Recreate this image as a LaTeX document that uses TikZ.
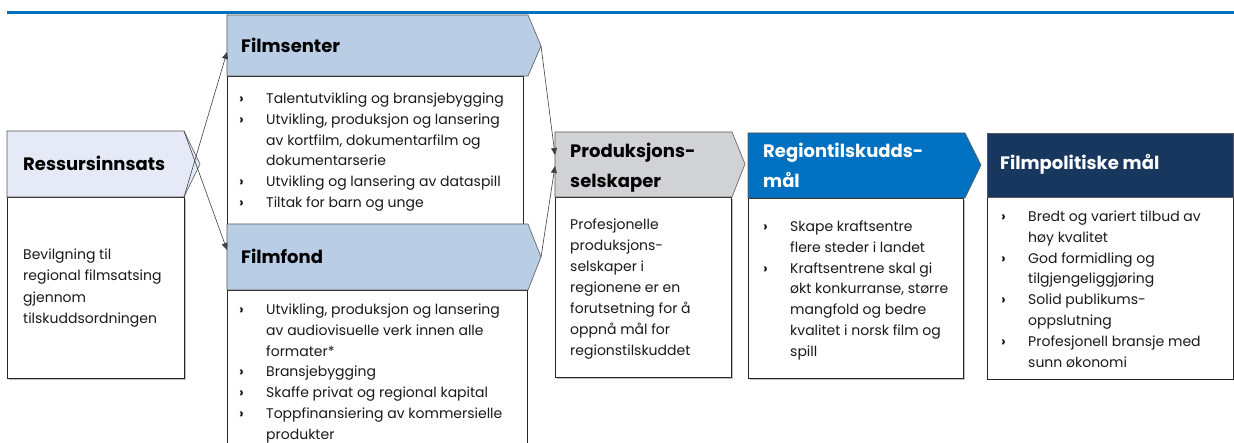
\documentclass[tikz,border=0pt]{standalone}
\usepackage{fontspec}
\setmainfont{Poppins}
\usetikzlibrary{arrows.meta}
\definecolor{lineblue}{RGB}{0,112,192}
\definecolor{resfill}{RGB}{230,234,247}
\definecolor{filmfill}{RGB}{185,205,229}
\definecolor{prodfill}{RGB}{209,210,212}
\definecolor{regfill}{RGB}{0,112,192}
\definecolor{polfill}{RGB}{23,55,94}
\definecolor{txt}{RGB}{26,26,26}
\newcommand{\bl}{\makebox[27pt][l]{\bfseries ›}}
\newcommand{\ind}{\hspace*{27pt}}
\tikzset{
  hdr/.style={draw=black!65, line width=0.6pt},
  bodybox/.style={draw=black!85, line width=0.7pt, fill=white},
  shade/.style={draw=black!25, line width=1.2pt},
  conn/.style={draw=black!75, line width=0.6pt, -{Triangle[length=7pt,width=6pt]}},
  btext/.style={anchor=base west, inner sep=0pt, align=left, text=txt,
    font=\fontsize{14}{20.8}\selectfont},
  htext/.style={anchor=base west, inner sep=0pt, align=left, text=black,
    font=\fontsize{18}{29.5}\selectfont\bfseries},
}
\begin{document}
\begin{tikzpicture}[x=1pt,y=-1pt]
\useasboundingbox (0,0) rectangle (1234,443);
\fill[white] (0,0) rectangle (1234,443);
% top rule
\draw[lineblue, line width=3pt] (7,13) -- (1234,13);

% Ressursinnsats
\draw[shade] (9,379.5) -- (185.5,379.5) -- (185.5,199);
\draw[bodybox] (7,197) rectangle (184,378);
\draw[hdr, fill=resfill] (7,131) -- (184,131) -- (200,164) -- (184,197) -- (7,197) -- cycle;
\node[htext] (resH) at (23,171) {Ressursinnsats};
\node[btext, font=\fontsize{14}{21.3}\selectfont] (resB) at (23,323.4)
  {Bevilgning til\\regional filmsatsing\\gjennom\\tilskuddsordningen};

% Filmsenter
\draw[bodybox] (227,76) rectangle (523,224);
\draw[hdr, fill=filmfill] (227,15) -- (528,15) -- (541,46) -- (528,76) -- (227,76) -- cycle;
\node[htext] (fsH) at (241,53) {Filmsenter};
\node[btext] (fsB) at (239,207.5)
  {\bl Talentutvikling og bransjebygging\\
   \bl Utvikling, produksjon og lansering\\
   \ind av kortfilm, dokumentarfilm og\\
   \ind dokumentarserie\\
   \bl Utvikling og lansering av dataspill\\
   \bl Tiltak for barn og unge};

% Filmfond
\fill[white] (227,290) rectangle (527,450);
\draw[black!85, line width=0.7pt] (227,450) -- (227,290) -- (527,290) -- (527,450);
\draw[hdr, fill=filmfill] (227,224) -- (528,224) -- (541,257) -- (528,290) -- (227,290) -- cycle;
\node[htext] (ffH) at (241,264) {Filmfond};
\node[btext] (ffB) at (239,439.3)
  {\bl Utvikling, produksjon og lansering\\
   \ind av audiovisuelle verk innen alle\\
   \ind formater*\\
   \bl Bransjebygging\\
   \bl Skaffe privat og regional kapital\\
   \bl Toppfinansiering av kommersielle\\
   \ind produkter};

% Produksjonsselskaper
\draw[shade] (557,378.5) -- (732.5,378.5) -- (732.5,199);
\draw[bodybox] (555,197) rectangle (731,377);
\draw[hdr, fill=prodfill] (555,132) -- (732,132) -- (745,164) -- (732,197) -- (555,197) -- cycle;
\node[htext] (prH) at (570,187.5) {Produksjons-\\selskaper};
\node[btext, font=\fontsize{14}{21}\selectfont] (prB) at (570,355.5)
  {Profesjonelle\\produksjons-\\selskaper i\\regionene er en\\forutsetning for å\\oppnå mål for\\regionstilskuddet};

% Regiontilskuddsmål
\draw[shade] (750,379.5) -- (964.5,379.5) -- (964.5,200);
\draw[bodybox] (748,198) rectangle (963,378);
\draw[hdr, fill=regfill] (748,133) -- (965,133) -- (981,165) -- (965,198) -- (748,198) -- cycle;
\node[htext, text=white, font=\fontsize{18}{30}\selectfont\bfseries] (rgH) at (763,188) {Regiontilskudds-\\mål};
\node[btext] (rgB) at (763,356.3)
  {\bl Skape kraftsentre\\
   \ind flere steder i landet\\
   \bl Kraftsentrene skal gi\\
   \ind økt konkurranse, større\\
   \ind mangfold og bedre\\
   \ind kvalitet i norsk film og\\
   \ind spill};

% Filmpolitiske mål
\draw[bodybox] (987,197) rectangle (1233,379);
\draw[hdr, fill=polfill] (987,133) rectangle (1233,197);
\node[htext, text=white] (poH) at (1000,170) {Filmpolitiske mål};
\node[btext] (poB) at (1001,367.1)
  {\bl Bredt og variert tilbud av\\
   \ind høy kvalitet\\
   \bl God formidling og\\
   \ind tilgjengeliggjøring\\
   \bl Solid publikums-\\
   \ind oppslutning\\
   \bl Profesjonell bransje med\\
   \ind sunn økonomi};

% connectors
\coordinate (resUp) at (184,131);
\coordinate (resLow) at (184,197);
\coordinate (fsIn) at (227,52);
\coordinate (ffIn) at (227,250);
\coordinate (fsTip) at (541,46);
\coordinate (ffTip) at (541,257);
\coordinate (prIn1) at (555,155);
\coordinate (prIn2) at (555,166);
\draw[conn] (resLow) -- (fsIn);
\draw[conn] (resUp) -- (ffIn);
\draw[conn] (fsTip) -- (prIn1);
\draw[conn] (ffTip) -- (prIn2);
\end{tikzpicture}
\end{document}
